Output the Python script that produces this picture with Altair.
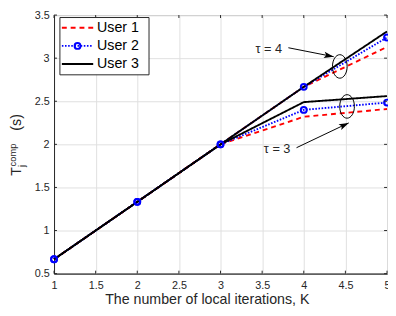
import math
import altair as alt
import pandas as pd

# ---------------- data ----------------
K_vals = [1, 2, 3, 4, 5]
users = ["User 1", "User 2", "User 3"]
user1_tau4 = [0.667, 1.333, 2.0, 2.667, 3.13]
user2_tau4 = [0.667, 1.333, 2.0, 2.667, 3.24]
user3_tau4 = [0.667, 1.333, 2.0, 2.667, 3.31]
user1_tau3 = [0.667, 1.333, 2.0, 2.32, 2.41]
user2_tau3 = [0.667, 1.333, 2.0, 2.40, 2.485]
user3_tau3 = [0.667, 1.333, 2.0, 2.49, 2.56]
x_ticks = [1, 1.5, 2, 2.5, 3, 3.5, 4, 4.5, 5]
y_ticks = [0.5, 1, 1.5, 2, 2.5, 3, 3.5]

tau_labels = ["\u03c4 = 4", "\u03c4 = 3"]
tau_label_K = [3.58, 3.68]
tau_label_v = [3.11, 1.95]
arrow_K_from = [3.815, 3.913]
arrow_v_from = [3.121, 1.961]
arrow_K_to = [4.36, 4.54]
arrow_v_to = [3.017, 2.249]
ellipse_K = [4.433, 4.52]
ellipse_v = [2.904, 2.44]

colors = ["#ff0000", "#0000ff", "#000000"]
dashes = [[5, 4], [1.6, 1.6], [1, 0]]

W, H = 340, 264
FONT = "Liberation Sans"
TXT = "#262626"

series = {
    ("User 1", "4"): user1_tau4, ("User 1", "3"): user1_tau3,
    ("User 2", "4"): user2_tau4, ("User 2", "3"): user2_tau3,
    ("User 3", "4"): user3_tau4, ("User 3", "3"): user3_tau3,
}
rows = []
for u in users:
    for t in ["4", "3"]:
        for k, v in zip(K_vals, series[(u, t)]):
            rows.append({"user": u, "tau": t, "K": k, "value": v})
df = pd.DataFrame(rows)

xscale = alt.Scale(domain=[1, 5], nice=False, zero=False)
yscale = alt.Scale(domain=[0.5, 3.5], nice=False, zero=False)
xaxis = alt.Axis(values=x_ticks, format="~g", title="The number of local iterations, K",
                 grid=True, tickSize=0, labelPadding=6, titlePadding=3, labelFlush=False,
                 titleX=W / 2 - 14)
yaxis = alt.Axis(values=y_ticks, format="~g", title=None, grid=True, tickSize=0,
                 labelPadding=5, labelFlush=False)
X = alt.X("K:Q", scale=xscale, axis=xaxis)
Y = alt.Y("value:Q", scale=yscale, axis=yaxis)

lines = alt.Chart(df).mark_line(strokeWidth=1.9).encode(
    x=X, y=Y,
    color=alt.Color("user:N", scale=alt.Scale(domain=users, range=colors), legend=None),
    strokeDash=alt.StrokeDash("user:N", scale=alt.Scale(domain=users, range=dashes), legend=None),
    detail="tau:N",
)
markers = alt.Chart(df[df["user"] == "User 2"]).mark_point(
    shape="circle", filled=False, size=36, strokeWidth=2, color="#0000ff", opacity=1
).encode(x=X, y=Y)

# inner ticks (MATLAB style)
xt = pd.DataFrame({"K": x_ticks})
yt = pd.DataFrame({"value": y_ticks})
tick_style = dict(color=TXT, strokeWidth=1)
ticks_b = alt.Chart(xt).mark_rule(**tick_style).encode(x=X, y=alt.value(H), y2=alt.value(H - 3))
ticks_t = alt.Chart(xt).mark_rule(**tick_style).encode(x=X, y=alt.value(0), y2=alt.value(3))
ticks_l = alt.Chart(yt).mark_rule(**tick_style).encode(y=Y, x=alt.value(0), x2=alt.value(3))
ticks_r = alt.Chart(yt).mark_rule(**tick_style).encode(y=Y, x=alt.value(W - 3), x2=alt.value(W))

# annotations
ell_path = ("M0,-1 C0.345,-1 0.625,-0.552 0.625,0 C0.625,0.552 0.345,1 0,1 "
            "C-0.345,1 -0.625,0.552 -0.625,0 C-0.625,-0.552 -0.345,-1 0,-1 Z")
ell_df = pd.DataFrame({"K": ellipse_K, "value": ellipse_v})
ellipses = alt.Chart(ell_df).mark_point(
    shape=ell_path, filled=False, size=576, color="#000000", strokeWidth=1, opacity=1
).encode(x=X, y=Y)

px_per_K = W / 4.0
px_per_v = H / 3.0
angs = []
for k0, v0, k1, v1 in zip(arrow_K_from, arrow_v_from, arrow_K_to, arrow_v_to):
    a = math.degrees(math.atan2(-(v1 - v0) * px_per_v, (k1 - k0) * px_per_K))
    angs.append(a % 360)
arr_df = pd.DataFrame({"K": arrow_K_from, "value": arrow_v_from,
                       "K2": arrow_K_to, "value2": arrow_v_to})
arrow_lines = alt.Chart(arr_df).mark_rule(color="#000000", strokeWidth=1).encode(
    x=X, y=Y, x2="K2:Q", y2="value2:Q")
head_df = pd.DataFrame({"K": arrow_K_to, "value": arrow_v_to, "ang": angs})
head_path = "M0,0 L-1,-0.32 L-0.78,0 L-1,0.32 Z"
heads = alt.Chart(head_df).mark_point(
    shape=head_path, filled=True, size=400, color="#000000", strokeWidth=0, opacity=1
).encode(x=X, y=Y, angle=alt.Angle("ang:Q", scale=None))

tau_df = pd.DataFrame({"K": tau_label_K, "value": tau_label_v, "label": tau_labels})
tau_text = alt.Chart(tau_df).mark_text(
    font=FONT, fontSize=13, color=TXT, align="center", baseline="middle"
).encode(x=X, y=Y, text="label:N")

# legend box
one = pd.DataFrame({"a": [0]})
leg_box = alt.Chart(one).mark_rect(fill="white", stroke=TXT, strokeWidth=1).encode(
    x=alt.value(6), x2=alt.value(97), y=alt.value(2.5), y2=alt.value(61))
leg_layers = [leg_box]
row_y = [13, 31.5, 50]
for i, u in enumerate(users):
    d = pd.DataFrame({"label": [u]})
    leg_layers.append(alt.Chart(d).mark_rule(
        color=colors[i], strokeWidth=1.9, strokeDash=dashes[i]
    ).encode(x=alt.value(8), x2=alt.value(40), y=alt.value(row_y[i])))
    if u == "User 2":
        leg_layers.append(alt.Chart(d).mark_point(
            shape="circle", filled=False, size=36, strokeWidth=2, color=colors[i], opacity=1
        ).encode(x=alt.value(24), y=alt.value(row_y[i])))
    leg_layers.append(alt.Chart(d).mark_text(
        font=FONT, fontSize=14.5, color="#000000", align="left", baseline="middle"
    ).encode(x=alt.value(44), y=alt.value(row_y[i] + 0.5), text="label:N"))

# y-axis title  T_j^comp (s)
yt_parts = [("T", -34, H / 2 + 32, 14.5), ("comp", -38.5, H / 2 + 22.5, 9.5),
            ("j", -30, H / 2 + 23, 9.5), ("(s)", -34, H / 2 - 14, 14.5)]
ytitle = []
for txt, xx, yy, fs in yt_parts:
    ytitle.append(alt.Chart(pd.DataFrame({"t": [txt]})).mark_text(
        font=FONT, fontSize=fs, color=TXT, align="left", baseline="alphabetic", angle=270
    ).encode(x=alt.value(xx), y=alt.value(yy), text="t:N"))

chart = alt.layer(
    lines, markers, ticks_b, ticks_t, ticks_l, ticks_r,
    ellipses, arrow_lines, heads, tau_text, *leg_layers, *ytitle
).properties(
    width=W, height=H,
    autosize=alt.AutoSizeParams(type="none"),
    padding={"left": 47, "top": 4, "right": 1, "bottom": 38},
).configure_axis(
    labelFont=FONT, labelFontSize=11, labelColor=TXT,
    titleFont=FONT, titleFontSize=14.5, titleColor=TXT, titleFontWeight="normal",
    gridColor="#dfdfdf", gridWidth=1, domainColor=TXT, domainWidth=1,
).configure_view(stroke=TXT, strokeWidth=1)

chart.save("out.html", embed_options={"renderer": "svg", "actions": False})
